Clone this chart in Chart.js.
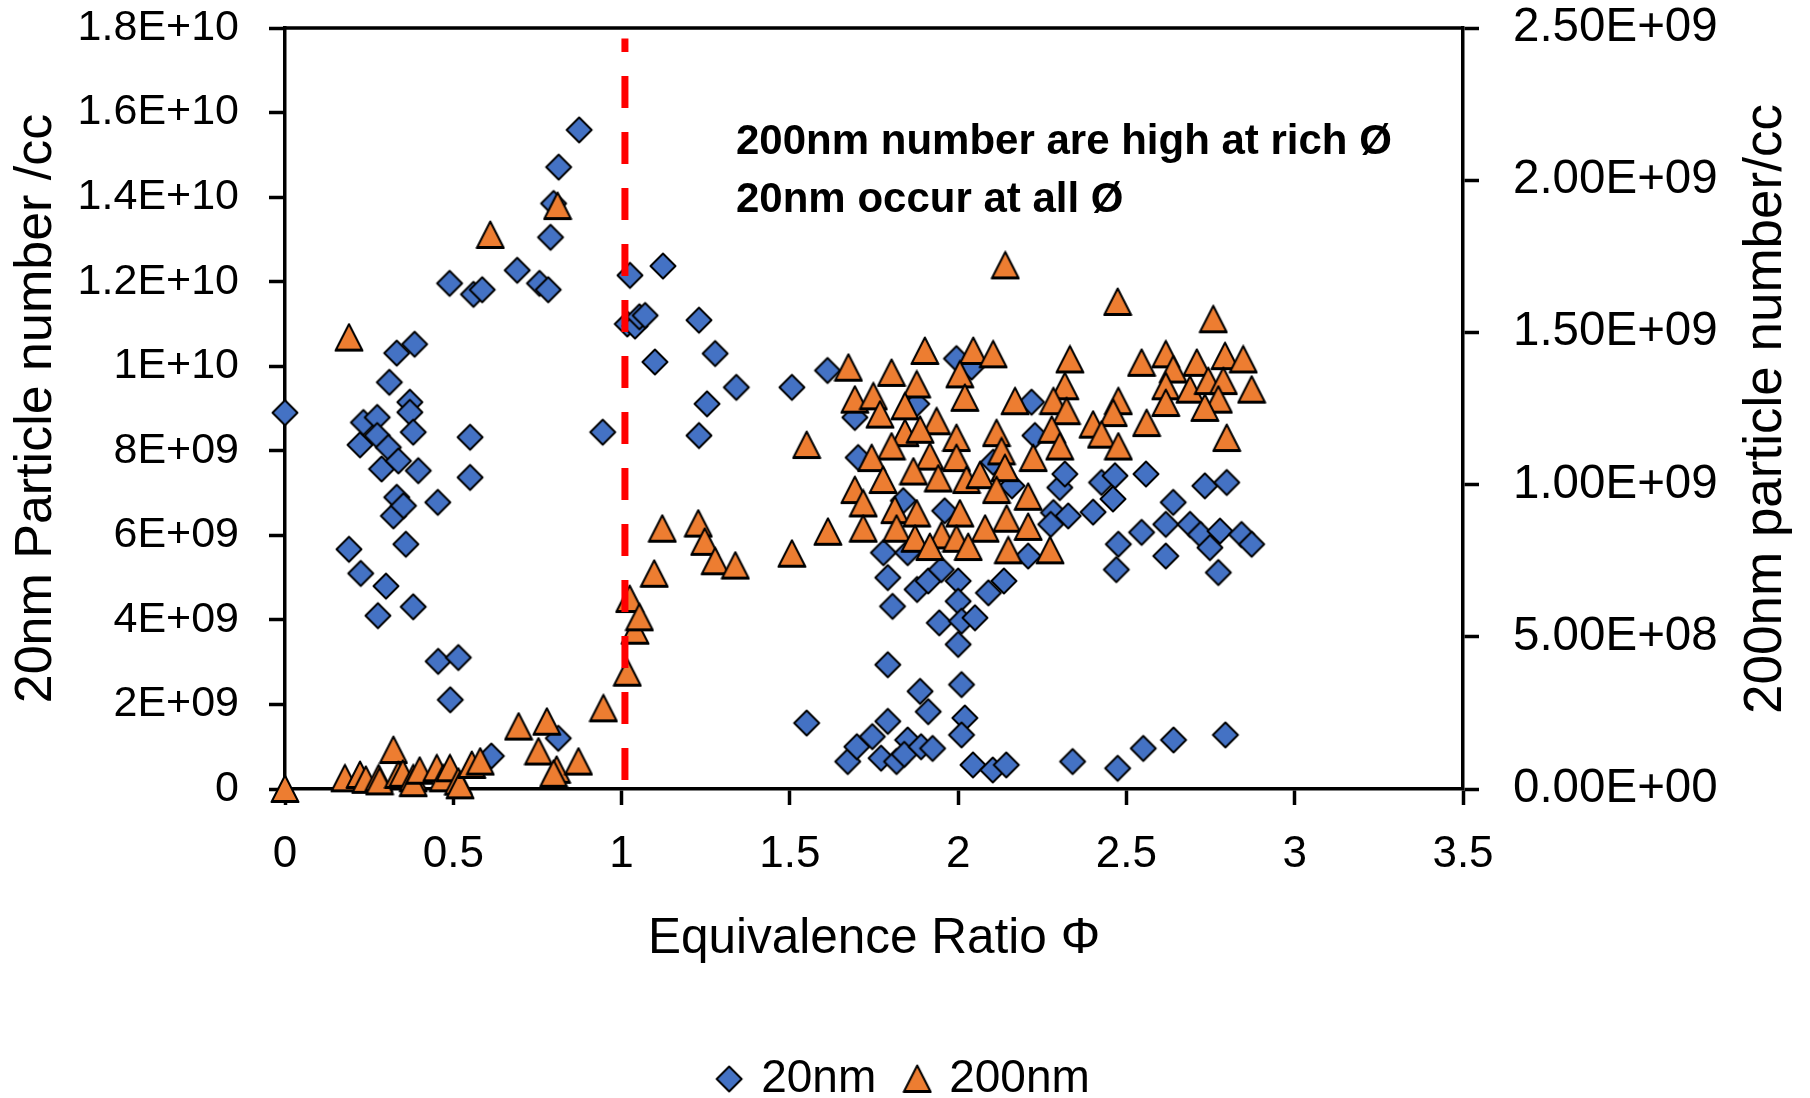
<!DOCTYPE html>
<html><head><meta charset="utf-8">
<script src="https://cdn.jsdelivr.net/npm/chart.js@4.4.1/dist/chart.umd.min.js"></script>
<style>html,body{margin:0;padding:0;background:#fff;overflow:hidden}#wrap{width:1810px;height:1098px}</style>
</head><body><div id="wrap"><canvas id="c" width="1810" height="1098"></canvas></div>
<script>
// ---- Data ----
const phi20 = [0,0.19,0.225,0.223,0.233,0.274,0.274,0.276,0.287,0.300,0.307,0.310,0.322,0.332,0.337,0.352,0.359,0.371,0.371,0.381,0.381,0.396,0.332,0.385,0.454,0.455,0.491,0.515,0.489,0.550,0.550,0.560,0.586,0.613,0.690,0.756,0.782,0.789,0.798,0.813,0.812,0.874,0.944,
 1.025,1.123,1.017,1.040,1.053,1.070,1.099,1.230,1.278,1.341,1.254,1.230,1.506,1.612,1.550,
 1.693,1.703,1.778,1.850,1.791,1.805,1.837,1.877,1.878,1.911,1.950,1.960,1.995,2.040,2.000,2.000,1.944,2.010,2.050,2.000,2.090,2.136,2.104,2.160,2.208,2.218,2.228,2.283,2.302,2.317,2.327,2.275,2.401,2.426,2.466,2.460,2.558,2.476,2.470,2.545,2.617,2.617,2.639,2.689,2.720,2.733,2.748,2.778,2.798,2.842,2.872,2.773,
 1.791,1.887,1.911,2.010,2.020,2.010,1.672,1.699,1.745,1.791,1.771,1.817,1.850,1.840,1.890,1.924,2.044,2.103,2.143,2.340,2.474,2.550,2.640,2.794];
const n20 = [8.90e9,5.67e9,5.10e9,8.14e9,8.67e9,8.79e9,8.36e9,4.10e9,7.57e9,4.80e9,8.08e9,9.62e9,6.46e9,6.90e9,7.76e9,6.70e9,5.79e9,9.15e9,8.91e9,8.44e9,4.31e9,7.53e9,10.31e9,10.52e9,6.78e9,3.02e9,2.11e9,3.11e9,11.96e9,8.32e9,7.37e9,11.70e9,11.81e9,0.78e9,12.27e9,11.96e9,11.81e9,13.05e9,13.85e9,14.71e9,1.20e9,15.59e9,8.44e9,
 12.15e9,12.37e9,11.00e9,10.95e9,11.17e9,11.20e9,10.10e9,11.09e9,10.30e9,9.50e9,9.11e9,8.36e9,9.50e9,9.90e9,1.56e9,
 8.79e9,7.84e9,5.59e9,5.59e9,5.00e9,4.32e9,6.82e9,9.11e9,4.72e9,4.92e9,5.19e9,6.58e9,10.18e9,9.98e9,4.92e9,4.44e9,3.93e9,3.97e9,4.05e9,3.42e9,4.64e9,4.92e9,7.73e9,7.17e9,5.51e9,9.15e9,8.36e9,6.54e9,7.13e9,7.45e9,6.46e9,6.26e9,6.55e9,7.25e9,7.41e9,6.86e9,7.45e9,5.79e9,5.19e9,6.07e9,6.26e9,5.51e9,6.78e9,6.26e9,6.02e9,7.17e9,5.71e9,6.10e9,7.25e9,6.02e9,5.79e9,5.12e9,
 2.94e9,2.31e9,1.83e9,2.47e9,1.68e9,1.28e9,0.65e9,1.00e9,1.24e9,1.60e9,0.73e9,0.65e9,1.16e9,0.82e9,1.00e9,0.96e9,0.57e9,0.45e9,0.57e9,0.65e9,0.49e9,0.96e9,1.16e9,1.28e9];

const phi200 = [0,0.178,0.223,0.240,0.278,0.281,0.322,0.337,0.350,0.381,0.381,0.400,0.451,0.470,0.490,0.515,0.520,0.555,0.580,0.190,0.610,0.810,0.694,0.778,0.753,0.807,0.798,0.872,0.946,
 1.017,1.024,1.040,1.053,1.097,1.121,1.228,1.247,1.278,1.338,1.506,1.550,1.613,
 1.901,2.045,2.104,2.332,1.674,1.802,2.005,1.877,2.317,1.693,1.748,2.020,2.169,2.283,1.842,1.768,1.936,2.322,1.842,1.887,1.995,2.114,2.278,1.802,2.302,1.743,1.916,1.995,2.129,2.223,2.139,1.867,1.777,1.941,2.025,2.065,1.693,2.114,2.208,1.718,1.812,1.877,2.005,2.144,1.718,1.817,2.208,2.080,1.951,1.872,1.995,1.916,2.149,2.273,2.030,
 2.545,2.617,2.709,2.793,2.847,2.639,2.617,2.689,2.743,2.788,2.872,2.773,2.617,2.733,2.476,2.461,2.560,2.401,2.426,2.476,2.798,
 2.140,2.474,2.758];
const n200 = [0,0.35e8,0.46e8,0.30e8,0.35e8,0.25e8,1.28e8,0.46e8,0.50e8,0.35e8,0.19e8,0.60e8,0.68e8,0.35e8,0.68e8,0.24e8,0.12e8,0.79e8,0.90e8,14.83e8,18.20e8,19.15e8,2.05e8,2.21e8,1.23e8,0.63e8,0.50e8,0.90e8,2.65e8,
 3.82e8,6.24e8,5.20e8,5.64e8,7.07e8,8.55e8,8.72e8,8.12e8,7.48e8,7.34e8,7.73e8,11.30e8,8.45e8,
 14.39e8,14.39e8,14.28e8,14.11e8,13.84e8,13.67e8,13.62e8,13.29e8,13.23e8,12.79e8,12.90e8,12.85e8,12.74e8,12.74e8,12.57e8,12.30e8,12.08e8,12.41e8,11.69e8,11.80e8,11.53e8,11.69e8,11.80e8,11.25e8,11.25e8,10.87e8,10.92e8,10.87e8,11.09e8,10.87e8,10.54e8,10.43e8,10.15e8,10.20e8,10.15e8,10.31e8,9.82e8,9.82e8,9.60e8,9.38e8,9.16e8,9.05e8,9.05e8,8.88e8,8.55e8,8.55e8,8.61e8,8.55e8,8.33e8,8.22e8,8.22e8,7.95e8,7.84e8,7.84e8,7.95e8,
 14.00e8,14.28e8,14.00e8,14.22e8,14.11e8,13.78e8,13.23e8,13.12e8,13.40e8,13.40e8,13.12e8,12.79e8,12.68e8,12.52e8,12.74e8,12.35e8,12.02e8,11.97e8,11.64e8,11.25e8,11.53e8,
 17.20e8,16.00e8,15.43e8];

const stoichPhi = [1.01, 1.01];
const stoichN = [0.21e9, 17.75e9];

const xTickLabels = ['0','0.5','1','1.5','2','2.5','3','3.5'];
const leftTickLabels = ['0','2E+09','4E+09','6E+09','8E+09','1E+10','1.2E+10','1.4E+10','1.6E+10','1.8E+10'];
const rightTickLabels = ['0.00E+00','5.00E+08','1.00E+09','1.50E+09','2.00E+09','2.50E+09'];
const seriesNames = ['20nm','200nm'];
const noteLines = ['200nm number are high at rich \u00D8','20nm occur at all \u00D8'];
const xTitle = 'Equivalence Ratio \u03A6';
const leftTitle = '20nm Particle number /cc';
const rightTitle = '200nm particle number/cc';

// ---- Chart ----
const F = "'Liberation Sans', Arial, sans-serif";
const BLUE = '#4472C4', ORANGE = '#ED7D31';
const toXY = (xs, ys) => xs.map((x, i) => ({x, y: ys[i]}));
const noPad = s => { s.paddingTop = 0; s.paddingBottom = 0; s.paddingLeft = 0; s.paddingRight = 0; };

// Excel-like marker glyphs used as Chart.js point styles
function makeMarker(kind) {
  const c = document.createElement('canvas');
  c.width = 30; c.height = 30;
  const g = c.getContext('2d');
  g.beginPath();
  if (kind === 'diamond') {
    g.moveTo(15, 2.5); g.lineTo(27.5, 15); g.lineTo(15, 27.5); g.lineTo(2.5, 15);
    g.fillStyle = BLUE;
  } else {
    g.moveTo(15, 1.5); g.lineTo(28.5, 28); g.lineTo(1.5, 28);
    g.fillStyle = ORANGE;
  }
  g.closePath();
  g.fill();
  g.lineJoin = 'round';
  g.lineWidth = 2; g.strokeStyle = '#000'; g.stroke();
  if (kind !== 'diamond') {
    g.lineWidth = 3; g.beginPath(); g.moveTo(2, 27.5); g.lineTo(28, 27.5); g.stroke();
  }
  return c;
}
const diamondMark = makeMarker('diamond');
const triangleMark = makeMarker('triangle');

const deco = {
  id: 'deco',
  afterDraw(chart) {
    const {ctx, chartArea: a} = chart;
    ctx.save();
    ctx.strokeStyle = '#000'; ctx.lineWidth = 3.5;
    ctx.beginPath(); ctx.moveTo(a.left, a.top); ctx.lineTo(a.right, a.top); ctx.stroke();
    ctx.fillStyle = '#000';
    ctx.font = "bold 42px " + F;
    ctx.textAlign = 'left'; ctx.textBaseline = 'alphabetic';
    ctx.fillText(noteLines[0], 736, 154);
    ctx.fillText(noteLines[1], 736, 212);
    ctx.font = "53px " + F;
    ctx.translate(1766, 409); ctx.rotate(-Math.PI / 2);
    ctx.textAlign = 'center'; ctx.textBaseline = 'middle';
    ctx.fillText(rightTitle, 0, 0);
    ctx.restore();
  }
};

const tickGrid = {display: true, drawOnChartArea: false, drawTicks: true, tickLength: 16, tickWidth: 3.5, tickColor: '#000', color: '#000'};
const axisBorder = {display: true, color: '#000', width: 3.5};

new Chart(document.getElementById('c'), {
  type: 'scatter',
  data: {
    datasets: [
      {label: seriesNames[0], data: toXY(phi20, n20), yAxisID: 'y', pointStyle: diamondMark, pointRadius: 13, pointHoverRadius: 13,
       backgroundColor: BLUE, borderColor: '#000', borderWidth: 2, order: 2, clip: false},
      {label: seriesNames[1], data: toXY(phi200, n200), yAxisID: 'y1', pointStyle: triangleMark, pointRadius: 14, pointHoverRadius: 14,
       backgroundColor: ORANGE, borderColor: '#000', borderWidth: 2, order: 1, clip: false},
      {label: 'stoich', data: toXY(stoichPhi, stoichN), yAxisID: 'y', showLine: true, pointRadius: 0, borderColor: '#FF0000',
       borderWidth: 7, borderDash: [32, 24], borderCapStyle: 'butt', order: 0, backgroundColor: '#FF0000'}
    ]
  },
  options: {
    responsive: false, animation: false, devicePixelRatio: 1,
    layout: {autoPadding: false, padding: {top: 28, bottom: -14, left: 0, right: 0}},
    plugins: {
      legend: {position: 'bottom', labels: {usePointStyle: true, boxWidth: 18, boxHeight: 18, padding: 32, color: '#000',
        font: {family: F, size: 46}, filter: it => it.datasetIndex < 2, sort: (a, b) => a.datasetIndex - b.datasetIndex}},
      tooltip: {enabled: false}
    },
    scales: {
      x: {type: 'linear', position: 'bottom', min: 0, max: 3.5,
        afterFit: s => { s.height = 235; noPad(s); },
        ticks: {stepSize: 0.5, padding: 23, color: '#000', font: {family: F, size: 44}, maxRotation: 0, autoSkip: false,
          callback: (v, i) => xTickLabels[i]},
        grid: tickGrid, border: axisBorder,
        title: {display: true, text: xTitle, color: '#000', font: {family: F, size: 49.5}, padding: {top: 0, bottom: 55}}},
      y: {type: 'linear', position: 'left', min: 0, max: 1.8e10,
        afterFit: s => { s.width = 285; noPad(s); },
        ticks: {stepSize: 2e9, padding: 30, color: '#000', font: {family: F, size: 43}, callback: (v, i) => leftTickLabels[i]},
        grid: tickGrid, border: axisBorder,
        title: {display: true, text: leftTitle, color: '#000', font: {family: F, size: 52}, padding: {top: 5, bottom: 0}}},
      y1: {type: 'linear', position: 'right', min: 0, max: 2.5e9,
        afterFit: s => { s.width = 347; noPad(s); },
        ticks: {stepSize: 5e8, padding: 34, color: '#000', font: {family: F, size: 47.5}, callback: (v, i) => rightTickLabels[i]},
        grid: tickGrid, border: axisBorder,
        title: {display: false}}
    }
  },
  plugins: [deco]
});
</script>
</body></html>
